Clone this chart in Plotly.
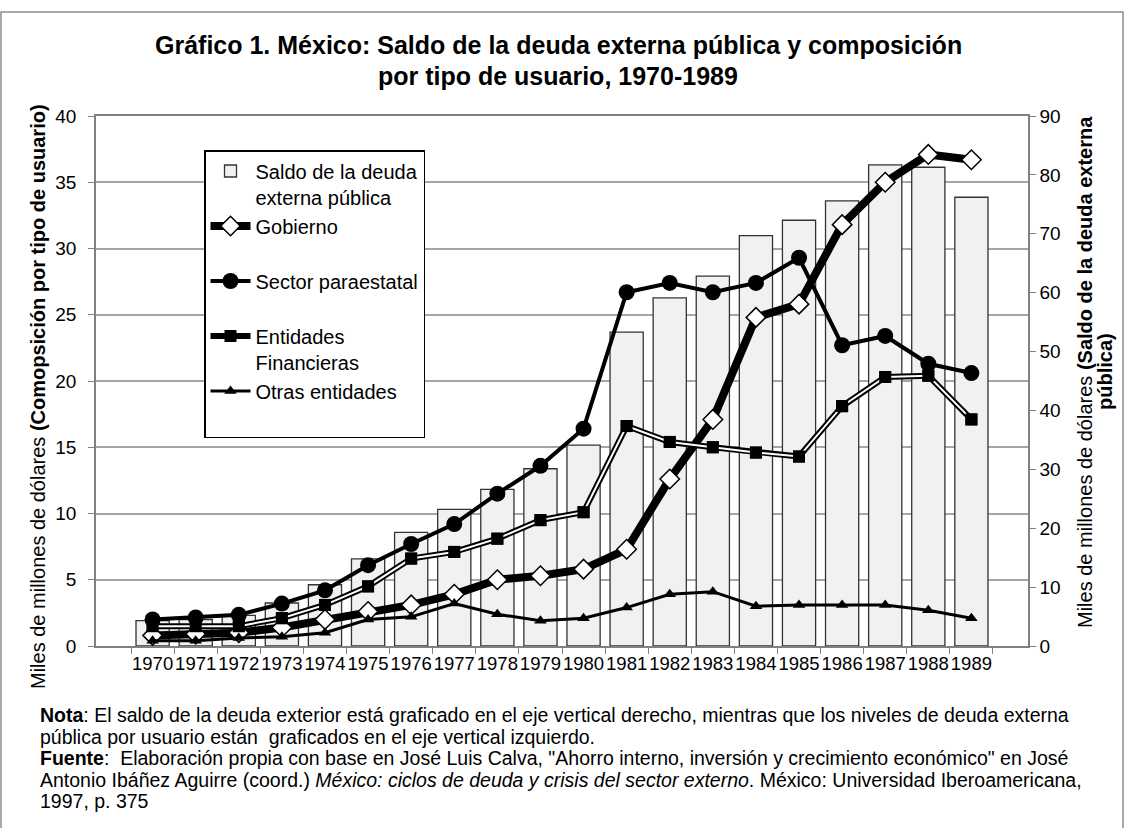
import plotly.graph_objects as go

years = [str(y) for y in range(1970, 1990)]
saldo = [4.3, 4.5, 5.2, 7.3, 10.4, 14.8, 19.3, 23.2, 26.6, 30.1, 34.1,
         53.3, 59.1, 62.8, 69.7, 72.3, 75.6, 81.7, 81.3, 76.2]
gobierno = [0.8, 0.9, 1.0, 1.4, 2.0, 2.6, 3.1, 3.9, 5.0, 5.3, 5.8,
            7.3, 12.6, 17.1, 24.8, 25.8, 31.8, 35.0, 37.1, 36.7]
paraestatal = [2.0, 2.15, 2.35, 3.2, 4.2, 6.1, 7.7, 9.2, 11.5, 13.6, 16.4,
               26.7, 27.4, 26.7, 27.4, 29.3, 22.7, 23.4, 21.3, 20.6]
financieras = [1.5, 1.5, 1.5, 2.1, 3.1, 4.5, 6.6, 7.1, 8.1, 9.5, 10.1,
               16.6, 15.4, 15.0, 14.6, 14.3, 18.1, 20.3, 20.4, 17.1]
otras = [0.4, 0.4, 0.6, 0.7, 1.0, 2.0, 2.2, 3.2, 2.4, 1.9, 2.1,
         2.9, 3.9, 4.1, 3.0, 3.1, 3.1, 3.1, 2.7, 2.1]

title_lines = ["Gráfico 1. México: Saldo de la deuda externa pública y composición",
               "por tipo de usuario, 1970-1989"]
note_lines = [
    "<b>Nota</b>: El saldo de la deuda exterior está graficado en el eje vertical derecho, mientras que los niveles de deuda externa",
    "pública por usuario están  graficados en el eje vertical izquierdo.",
    "<b>Fuente</b>:  Elaboración propia con base en José Luis Calva, \"Ahorro interno, inversión y crecimiento económico\" en José",
    "Antonio Ibáñez Aguirre (coord.) <i>México: ciclos de deuda y crisis del sector externo</i>. México: Universidad Iberoamericana,",
    "1997, p. 375",
]

FONT = "Arial, Liberation Sans, sans-serif"

fig = go.Figure()

fig.add_trace(go.Bar(
    x=years, y=saldo, yaxis="y",
    name="Saldo de la deuda<br>externa pública",
    marker=dict(color="#f1f1f1", line=dict(color="#333333", width=1.3)),
))
fig.add_trace(go.Scatter(
    x=years, y=gobierno, yaxis="y2", mode="lines+markers",
    name="Gobierno<br> ",
    line=dict(color="black", width=8),
    marker=dict(symbol="diamond", size=15, color="white",
                line=dict(color="black", width=1.5)),
))
fig.add_trace(go.Scatter(
    x=years, y=paraestatal, yaxis="y2", mode="lines+markers",
    name="Sector paraestatal<br> ",
    line=dict(color="black", width=4),
    marker=dict(symbol="circle", size=16, color="black"),
))
fig.add_trace(go.Scatter(
    x=years, y=financieras, yaxis="y2", mode="lines+markers",
    name="Entidades<br>Financieras",
    line=dict(color="black", width=6),
    marker=dict(symbol="square", size=12, color="black"),
))
fig.add_trace(go.Scatter(
    x=years, y=financieras, yaxis="y2", mode="lines",
    showlegend=False, hoverinfo="skip",
    line=dict(color="white", width=2),
))
fig.add_trace(go.Scatter(
    x=years, y=financieras, yaxis="y2", mode="markers",
    showlegend=False, hoverinfo="skip",
    marker=dict(symbol="square", size=12, color="black"),
))
fig.add_trace(go.Scatter(
    x=years, y=otras, yaxis="y2", mode="lines+markers",
    name="Otras entidades<br> ",
    line=dict(color="black", width=3),
    marker=dict(symbol="triangle-up", size=11, color="black"),
))

L, R, T, B = 96, 96, 116, 182
PW, PH = 1124 - L - R, 828 - T - B


def px(x):
    return (x - L) / PW


def py(y):
    return (828 - B - y) / PH


fig.update_layout(
    width=1124, height=828,
    margin=dict(l=L, r=R, t=T, b=B, autoexpand=False),
    paper_bgcolor="white", plot_bgcolor="white",
    font=dict(family=FONT, color="black", size=17),
    bargap=0.23,
    showlegend=True,
    legend=dict(
        x=px(204), y=py(150), xanchor="left", yanchor="top",
        bgcolor="white", bordercolor="black", borderwidth=1.5,
        font=dict(size=20, family=FONT), valign="top",
        tracegroupgap=0, traceorder="normal", itemwidth=40,
    ),
    xaxis=dict(
        type="category", showline=True, linecolor="#808080", linewidth=1.5,
        mirror=True, ticks="outside", tickson="boundaries", ticklen=6,
        tickcolor="#808080", tickfont=dict(size=18.5), tickangle=0,
        automargin=False, showgrid=False,
    ),
    yaxis=dict(
        side="right", range=[0, 90], dtick=10, showgrid=False,
        showline=True, linecolor="#808080", linewidth=1.5,
        ticks="outside", ticklen=6, tickcolor="#808080",
        tickfont=dict(size=19), automargin=False, zeroline=False,
    ),
    yaxis2=dict(
        side="left", overlaying="y", range=[0, 40], dtick=5,
        showgrid=True, gridcolor="#a6a6a6", gridwidth=1.5,
        showline=True, linecolor="#808080", linewidth=1.5,
        ticks="outside", ticklen=6, tickcolor="#808080",
        tickfont=dict(size=19), automargin=False, zeroline=False,
        ticklabelstandoff=8,
    ),
)

# title (two lines)
for yc, line in zip([45, 76], title_lines):
    fig.add_annotation(
        xref="paper", yref="paper", x=px(558), y=py(yc),
        xanchor="center", yanchor="middle", showarrow=False,
        text="<b>" + line + "</b>", font=dict(size=25, family=FONT),
    )

# axis titles
fig.add_annotation(
    xref="paper", yref="paper", x=px(38), y=py(397),
    xanchor="center", yanchor="middle", textangle=-90, showarrow=False,
    text="Miles de millones de dólares <b>(Comopsición por tipo de usuario)</b>",
    font=dict(size=20, family=FONT),
)
fig.add_annotation(
    xref="paper", yref="paper", x=px(1085), y=py(372),
    xanchor="center", yanchor="middle", textangle=-90, showarrow=False,
    text="Miles de millones de dólares <b>(Saldo de la deuda externa</b>",
    font=dict(size=20, family=FONT),
)
fig.add_annotation(
    xref="paper", yref="paper", x=px(1105), y=py(372),
    xanchor="center", yanchor="middle", textangle=-90, showarrow=False,
    text="<b>pública)</b>",
    font=dict(size=20, family=FONT),
)

# note lines
for yc, line in zip([715, 737, 758, 780, 801], note_lines):
    fig.add_annotation(
        xref="paper", yref="paper", x=px(38), y=py(yc),
        xanchor="left", yanchor="middle", align="left", showarrow=False,
        text=line, font=dict(size=19.5, family=FONT),
    )

fig.add_shape(
    type="rect", xref="paper", yref="paper",
    x0=px(1), x1=px(1123), y0=py(840), y1=py(12),
    line=dict(color="#8c8c8c", width=1.5), fillcolor="rgba(0,0,0,0)",
    layer="below",
)

fig.write_html("out.html")
